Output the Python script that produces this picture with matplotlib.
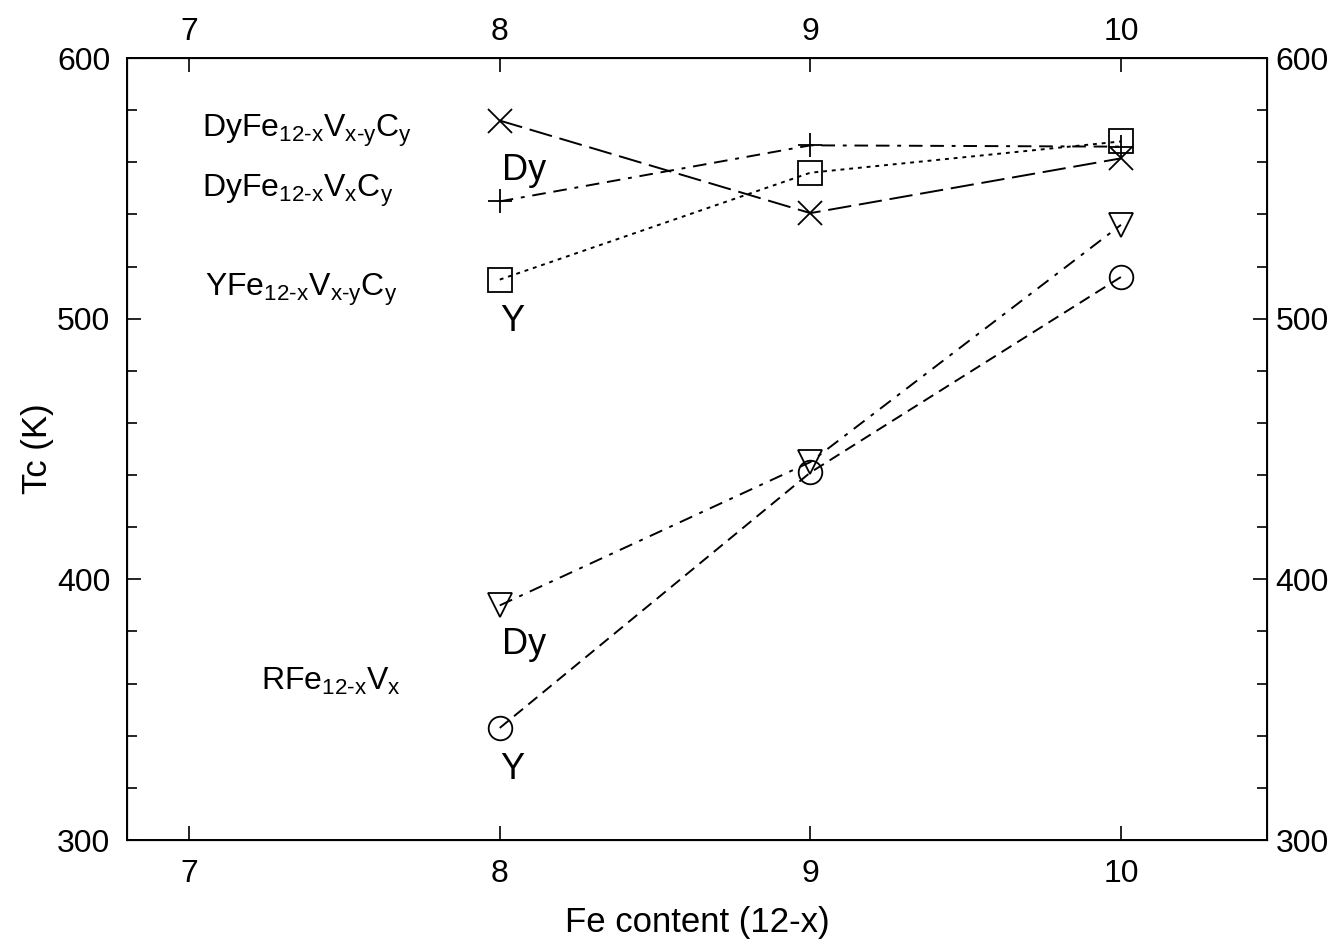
import matplotlib
matplotlib.use('Agg')
import matplotlib.pyplot as plt
from matplotlib.ticker import MultipleLocator

plt.rcParams['font.family'] = ['Liberation Sans', 'DejaVu Sans']
plt.rcParams['mathtext.fontset'] = 'custom'
plt.rcParams['mathtext.rm'] = 'Liberation Sans'
plt.rcParams['mathtext.it'] = 'Liberation Sans'
plt.rcParams['font.size'] = 23

# Fe content (12-x)
fe = [8, 9, 10]

# Curie temperatures (K)
dy_vxy_c = [576, 540.5, 561.5]     # DyFe12-xVx-yCy  (x)
dy_vx_c = [545, 566.5, 566]        # DyFe12-xVxCy    (+)
y_vxy_c = [515, 556, 568]          # YFe12-xVx-yCy   (square)
dy_vx = [390, 445, 536]            # DyFe12-xVx      (triangle)
y_vx = [343, 441, 516]             # YFe12-xVx       (circle)

xticks = [7, 8, 9, 10]
yticks = [300, 400, 500, 600]

fig = plt.figure(figsize=(13.4, 9.48), dpi=100)
ax = fig.add_axes([0.0948, 0.1139, 0.8507, 0.8249])

kw = dict(color='black', lw=1.4, mfc='none', mec='black', mew=1.3, ms=17)
ax.plot(fe, dy_vxy_c, marker='x', dashes=(12, 4), **kw)
ax.plot(fe, dy_vx_c, marker='+', dashes=(7, 4, 2, 4, 7, 4), **kw)
ax.plot(fe, y_vxy_c, marker='s', dashes=(2, 2.5), **kw)
ax.plot(fe, dy_vx, marker='v', dashes=(7, 4, 2, 4), **kw)
ax.plot(fe, y_vx, marker='o', dashes=(6, 3.5), **kw)

ax.set_xlim(6.8, 10.47)
ax.set_ylim(300, 600)
ax.set_xticks(xticks)
ax.set_yticks(yticks)
ax.yaxis.set_minor_locator(MultipleLocator(20))
ax.tick_params(axis='x', direction='in', length=10, width=1.2, pad=14)
ax.tick_params(axis='y', direction='in', length=10, width=1.2, pad=12)
ax.tick_params(which='minor', direction='in', length=7, width=1.2)
ax.set_xlabel('Fe content (12-x)', fontsize=25, labelpad=12)
ax.set_ylabel('Tc (K)', fontsize=25, labelpad=2)
for s in ax.spines.values():
    s.set_linewidth(1.4)

axr = ax.twinx()
axr.set_ylim(300, 600)
axr.set_yticks(yticks)
axr.yaxis.set_minor_locator(MultipleLocator(20))
axr.tick_params(direction='in', length=10, width=1.2, pad=6)
axr.tick_params(which='minor', direction='in', length=7, width=1.2)

axt = ax.twiny()
axt.set_xlim(6.8, 10.47)
axt.set_xticks(xticks)
axt.tick_params(direction='in', length=10, width=1.2, pad=8)

ax.text(7.04, 572, r'DyFe$_{\mathrm{12\text{-}x}}$V$_{\mathrm{x\text{-}y}}$C$_{\mathrm{y}}$', ha='left', va='center')
ax.text(7.04, 549, r'DyFe$_{\mathrm{12\text{-}x}}$V$_{\mathrm{x}}$C$_{\mathrm{y}}$', ha='left', va='center')
ax.text(7.05, 511, r'YFe$_{\mathrm{12\text{-}x}}$V$_{\mathrm{x\text{-}y}}$C$_{\mathrm{y}}$', ha='left', va='center')
ax.text(7.23, 361, r'RFe$_{\mathrm{12\text{-}x}}$V$_{\mathrm{x}}$', ha='left', va='center')
ax.text(8.08, 557, 'Dy', fontsize=26, ha='center', va='center')
ax.text(8.04, 499, 'Y', fontsize=26, ha='center', va='center')
ax.text(8.08, 375, 'Dy', fontsize=26, ha='center', va='center')
ax.text(8.04, 327, 'Y', fontsize=26, ha='center', va='center')

fig.savefig('out.png', dpi=100)
